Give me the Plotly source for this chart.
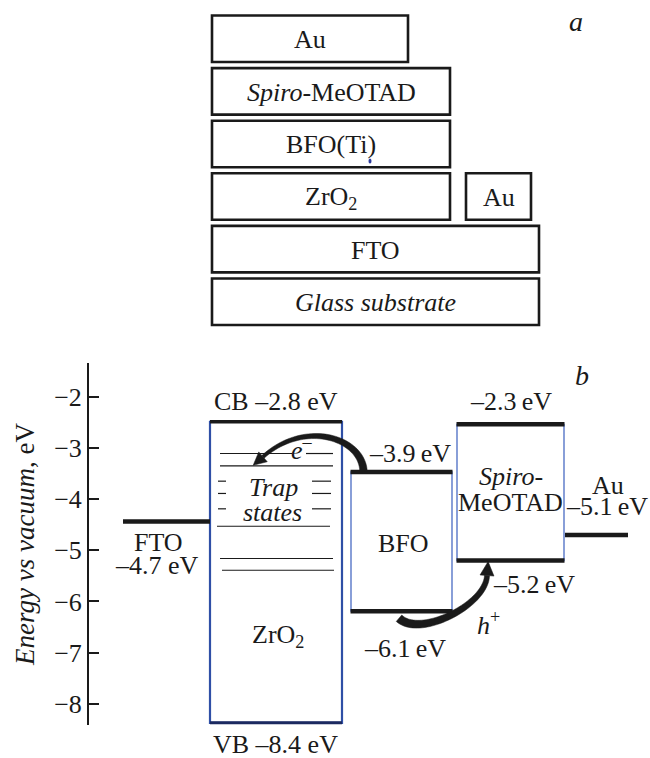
import numpy as np
import plotly.graph_objects as go

# ---------------- panel a : layer stack (bottom -> top) ----------------
layer_names = ["<i>Glass substrate</i>", "FTO", "ZrO<sub>2</sub>", "Au",
               "BFO(Ti)", "<i>Spiro</i>-MeOTAD", "Au"]
layer_rows = [0, 1, 2, 2, 3, 4, 5]
# layout of the schematic boxes (pixel-like units of the x2/y2 frame)
layer_left = [212, 212, 212, 466, 212, 212, 212]
layer_right = [539, 539, 450, 531, 450, 450, 408]
ROW0_BOTTOM, ROW_PITCH, BOX_H = 325.0, 52.6, 46.5

# ---------------- panel b : energy levels (eV, as drawn) ----------------
fto_level = -4.44
zro2_cb, zro2_vb = -2.49, -8.37
bfo_cb, bfo_vb = -3.47, -6.19
spiro_lumo, spiro_homo = -2.54, -5.20
au_level = -4.70
trap_full = [-3.11, -3.35, -4.53, -5.16, -5.39]
trap_short = [-3.65, -3.89, -4.19]
y_ticks = [-2, -3, -4, -5, -6, -7, -8]

label_cb = "CB \u20132.8 eV"
label_vb = "VB \u20138.4 eV"
label_fto = "\u20134.7 eV"
label_bfo_cb = "\u20133.9\u2009eV"
label_bfo_vb = "\u20136.1\u2009eV"
label_spiro_lumo = "\u20132.3\u2009eV"
label_spiro_homo = "\u20135.2\u2009eV"
label_au = "\u20135.1\u2009eV"

# ---------------- layout constants ----------------
W, H = 650, 758
FONT = "Liberation Serif"
FS = 26
INK = "#1a1a1a"
BLUE = "#2f4fa6"
BLUE_L = "#4a6cc4"

# lower plot frame (pixels)
AX_X = 89
Y_PX_TOP, Y_PX_BOT = 363.0, 725.0
PPE = 51.2  # pixels per eV
E_TOP = -1.342
E_BOT = E_TOP - (Y_PX_BOT - Y_PX_TOP) / PPE


def px(E):
    return Y_PX_TOP + (E_TOP - E) * PPE


def ev(p):
    return E_TOP - (p - Y_PX_TOP) / PPE


# column extents (x in pixel units of x axis)
fto_x = (123, 210)
zro2_x = (210, 342)
bfo_x = (350.5, 452.5)
spiro_x = (456.5, 564.5)
au_x = (565, 628)

fig = go.Figure()

# ---- thick level lines as traces ----
def seg_trace(segs, width, color):
    xs, ys = [], []
    for (x0, x1, y) in segs:
        xs += [x0, x1, None]
        ys += [y, y, None]
    fig.add_trace(go.Scatter(x=xs, y=ys, mode="lines",
                             line=dict(color=color, width=width),
                             hoverinfo="skip", showlegend=False))

seg_trace([(fto_x[0], fto_x[1], fto_level),
           (bfo_x[0], bfo_x[1], bfo_cb), (bfo_x[0], bfo_x[1], bfo_vb),
           (spiro_x[0], spiro_x[1], spiro_lumo), (spiro_x[0], spiro_x[1], spiro_homo),
           (au_x[0], au_x[1], au_level)], 4.5, INK)
seg_trace([(zro2_x[0], zro2_x[1], zro2_cb)], 3.5, INK)
seg_trace([(zro2_x[0], zro2_x[1], zro2_vb)], 3, "#1c2a60")

# trap states
full_extents = [(220, 333), (220, 333), (217, 330), (220, 333), (222, 334)]
segs = []
for i, (lv, (a, b)) in enumerate(zip(trap_full, full_extents)):
    if i == 0:
        segs += [(a, 292, lv), (306, b, lv)]
    else:
        segs.append((a, b, lv))
for lv in trap_short:
    segs += [(218, 226, lv), (312, 331, lv)]
seg_trace(segs, 1.2, INK)

# invisible trace to create the upper frame
fig.add_trace(go.Scatter(x=[0], y=[0], xaxis="x2", yaxis="y2", mode="markers",
                         marker=dict(opacity=0), hoverinfo="skip", showlegend=False))

shapes = []
# band boxes (blue outlines)
shapes.append(dict(type="rect", xref="x", yref="y", x0=zro2_x[0], x1=zro2_x[1],
                   y0=zro2_vb, y1=zro2_cb, line=dict(color=BLUE, width=2.2), layer="below"))
shapes.append(dict(type="rect", xref="x", yref="y", x0=bfo_x[0] + 0.5, x1=bfo_x[1] - 0.5,
                   y0=bfo_vb, y1=bfo_cb, line=dict(color=BLUE_L, width=1.3), layer="below"))
shapes.append(dict(type="rect", xref="x", yref="y", x0=spiro_x[0] + 0.5, x1=spiro_x[1] - 0.5,
                   y0=spiro_homo, y1=spiro_lumo, line=dict(color=BLUE_L, width=1.3), layer="below"))


# ---- curved arrows (tapered strokes) ----
def arrow_path(p0, p1, p2, p3, w0, w1, head_len, head_hw, n=48):
    p0, p1, p2, p3 = map(np.array, (p0, p1, p2, p3))
    t = np.linspace(0, 1, n)[:, None]
    pts = (1 - t) ** 3 * p0 + 3 * (1 - t) ** 2 * t * p1 + 3 * (1 - t) * t ** 2 * p2 + t ** 3 * p3
    d = np.gradient(pts, axis=0)
    d /= np.linalg.norm(d, axis=1)[:, None]
    nrm = np.stack([-d[:, 1], d[:, 0]], axis=1)
    w = (w0 + (w1 - w0) * t[:, 0])[:, None] / 2
    left = pts + nrm * w
    right = pts - nrm * w
    poly = np.vstack([left, right[::-1]])
    body = "M " + " L ".join(f"{x:.2f},{ev(y):.4f}" for x, y in poly) + " Z"
    de = d[-1]
    ne = np.array([-de[1], de[0]])
    tip = p3 + de * head_len
    b1 = p3 + ne * head_hw
    b2 = p3 - ne * head_hw
    head = "M " + " L ".join(f"{x:.2f},{ev(y):.4f}" for x, y in (tip, b1, b2)) + " Z"
    return body, head


e_body, e_head = arrow_path((bfo_x[0] + 13, px(bfo_cb)), (363, 438), (305, 419),
                            (263, px(trap_full[1]) - 9), 7.5, 3.5, 13, 6.5)
h_body, h_head = arrow_path((399, px(bfo_vb) + 7), (420, 638), (486, 605),
                            (487, px(spiro_homo) + 15), 8.5, 5, 14, 7)
for pth in (e_body, e_head, h_body, h_head):
    shapes.append(dict(type="path", xref="x", yref="y", path=pth,
                       fillcolor=INK, line=dict(color=INK, width=0.5), layer="above"))

# ---- panel a boxes ----
ann = []
for name, r, x0, x1 in zip(layer_names, layer_rows, layer_left, layer_right):
    yb = ROW0_BOTTOM - r * ROW_PITCH
    yt = yb - BOX_H
    shapes.append(dict(type="rect", xref="x2", yref="y2", x0=x0, x1=x1, y0=yt, y1=yb,
                       line=dict(color=INK, width=2.6), layer="below"))
    ann.append(dict(xref="x2", yref="y2", x=(x0 + x1) / 2, y=(yt + yb) / 2 + 1,
                    xanchor="center", yanchor="middle",
                    text=name, showarrow=False, font=dict(family=FONT, size=FS, color=INK)))
# small blue speck under the BFO(Ti) box
shapes.append(dict(type="circle", xref="x2", yref="y2", x0=368.5, x1=371.5,
                   y0=158.5, y1=163.5, fillcolor="#2b3a9c", line=dict(width=0)))

ann.append(dict(xref="x2", yref="y2", x=576, y=21, text="<i>a</i>", showarrow=False,
                xanchor="center", yanchor="middle",
                font=dict(family=FONT, size=FS + 2, color=INK)))


# ---- panel b labels (placed in paper units from pixel positions) ----
def lab(text, x, y_px, size=FS):
    ann.append(dict(xref="x", yref="paper", x=x, y=(H - y_px) / H, text=text,
                    xanchor="center", yanchor="middle",
                    showarrow=False, font=dict(family=FONT, size=size, color=INK)))

lab("<i>b</i>", 582, 375, FS + 2)
lab(label_cb, 276, px(zro2_cb) - 20)
lab(label_vb, 275, px(zro2_vb) + 22)
lab("FTO", 158, px(fto_level) + 21)
lab(label_fto, 157, px(fto_level) + 44)
lab("ZrO<sub>2</sub>", 278, 636)
lab("<i>Trap</i>", 273, 487)
lab("<i>states</i>", 272, 512)
lab("<i>e</i><sup>\u2013</sup>", 302, 448)
lab(label_bfo_cb, 410, px(bfo_cb) - 18)
lab("BFO", 403, 543)
lab(label_bfo_vb, 405, px(bfo_vb) + 37)
lab(label_spiro_lumo, 511, px(spiro_lumo) - 23)
lab("<i>Spiro</i>-", 511, 476)
lab("MeOTAD", 510, 502)
lab("Au", 608, 485)
lab(label_au, 607, 507)
lab(label_spiro_homo, 534, px(spiro_homo) + 24)
lab("<i>h</i><sup>+</sup>", 488, 623)

fig.update_layout(
    width=W, height=H, margin=dict(l=0, r=0, t=0, b=0),
    paper_bgcolor="white", plot_bgcolor="rgba(0,0,0,0)",
    showlegend=False, shapes=shapes, annotations=ann,
    xaxis=dict(domain=[AX_X / W, 1], range=[AX_X, W], visible=False, anchor="y"),
    yaxis=dict(domain=[(H - Y_PX_BOT) / H, (H - Y_PX_TOP) / H], range=[E_BOT, E_TOP],
               anchor="x", showline=True, linecolor=INK, linewidth=2,
               ticks="inside", ticklen=10, tickwidth=1.5, tickcolor=INK,
               tickvals=y_ticks, showgrid=False, zeroline=False,
               tickfont=dict(family=FONT, size=FS, color=INK),
               title=dict(text="<i>Energy vs vacuum</i>, eV", standoff=12,
                          font=dict(family=FONT, size=FS + 1, color=INK))),
    xaxis2=dict(domain=[0, 1], range=[0, W], visible=False, anchor="y2"),
    yaxis2=dict(domain=[(H - 330) / H, 1], range=[330, 0], visible=False, anchor="x2"),
)

fig.write_html("out.html")
